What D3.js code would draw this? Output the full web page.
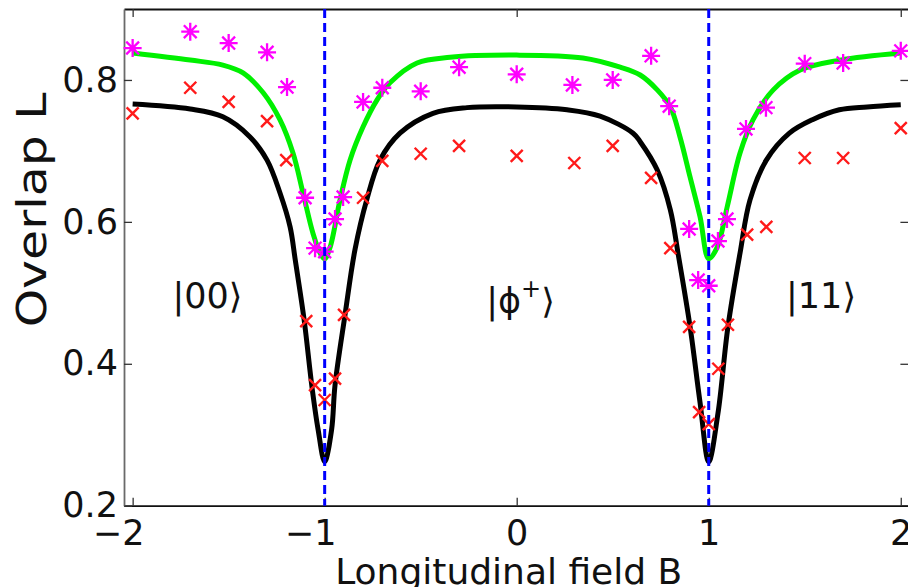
<!DOCTYPE html>
<html>
<head>
<meta charset="utf-8">
<script src="https://cdn.jsdelivr.net/npm/d3@7"></script>
<style>
  body { margin: 0; background: #fff; }
  svg { display: block; }
  text { font-family: "DejaVu Sans", sans-serif; fill: #111; }
</style>
</head>
<body>
<svg id="chart"></svg>
<script>
// ticks
const xTicks = [-2, -1, 0, 1, 2];
const yTicks = [0.2, 0.4, 0.6, 0.8];
const dipFields = [-1, 1];

// theory curves
const blackB = [-2.0, -1.70, -1.53, -1.39, -1.30, -1.233, -1.18, -1.153, -1.107, -1.066, -1.034, -1.0, -0.964, -0.946, -0.894, -0.842, -0.78, -0.712, -0.608, -0.436, -0.259, 0.0, 0.262, 0.434, 0.606, 0.643, 0.732, 0.80, 0.84, 0.903, 0.955, 1.0, 1.048, 1.10, 1.163, 1.215, 1.30, 1.42, 1.54, 1.68, 1.825, 2.0];
const blackL = [0.766, 0.759, 0.748, 0.720, 0.687, 0.641, 0.593, 0.546, 0.462, 0.367, 0.307, 0.262, 0.307, 0.370, 0.469, 0.561, 0.632, 0.687, 0.725, 0.753, 0.761, 0.762, 0.758, 0.749, 0.725, 0.713, 0.673, 0.617, 0.556, 0.452, 0.345, 0.262, 0.330, 0.452, 0.556, 0.631, 0.687, 0.725, 0.744, 0.758, 0.762, 0.765];

const greenB = [-2.0, -1.70, -1.53, -1.425, -1.32, -1.233, -1.165, -1.113, -1.061, -1.024, -1.0, -0.972, -0.92, -0.868, -0.80, -0.727, -0.66, -0.519, -0.347, 0.0, 0.345, 0.539, 0.643, 0.732, 0.80, 0.85, 0.903, 0.955, 1.0, 1.044, 1.096, 1.163, 1.231, 1.336, 1.476, 1.684, 2.0];
const greenL = [0.838, 0.828, 0.821, 0.810, 0.782, 0.744, 0.697, 0.641, 0.584, 0.556, 0.548, 0.564, 0.631, 0.687, 0.734, 0.772, 0.796, 0.824, 0.832, 0.835, 0.831, 0.818, 0.807, 0.786, 0.762, 0.720, 0.663, 0.607, 0.548, 0.564, 0.621, 0.697, 0.744, 0.786, 0.814, 0.828, 0.838];

// measured points
const starB = [-2.0, -1.70, -1.50, -1.30, -1.196, -1.102, -1.05, -1.0, -0.946, -0.904, -0.80, -0.70, -0.50, -0.30, 0.0, 0.29, 0.50, 0.70, 0.794, 0.898, 0.945, 1.0, 1.048, 1.095, 1.194, 1.298, 1.50, 1.70, 2.0];
const starL = [0.845, 0.868, 0.852, 0.839, 0.790, 0.634, 0.563, 0.558, 0.604, 0.635, 0.769, 0.789, 0.784, 0.818, 0.808, 0.793, 0.800, 0.834, 0.763, 0.590, 0.518, 0.510, 0.573, 0.604, 0.731, 0.761, 0.823, 0.824, 0.841];

const crossB = [-2.0, -1.70, -1.50, -1.30, -1.20, -1.096, -1.05, -1.0, -0.946, -0.899, -0.80, -0.70, -0.50, -0.30, 0.0, 0.30, 0.50, 0.70, 0.80, 0.898, 0.95, 1.0, 1.05, 1.10, 1.20, 1.30, 1.50, 1.70, 2.0];
const crossL = [0.753, 0.789, 0.769, 0.742, 0.687, 0.460, 0.370, 0.349, 0.379, 0.469, 0.634, 0.686, 0.696, 0.707, 0.693, 0.683, 0.707, 0.662, 0.563, 0.452, 0.332, 0.315, 0.393, 0.455, 0.582, 0.593, 0.690, 0.690, 0.732];

// state annotations
const stateNames = ["00", "ϕ", "11"];
const stateB = [-1.61, 0.02, 1.585];
const stateL = [0.478, 0.471, 0.478];

const width = 908, height = 587;
const svg = d3.select("#chart").attr("width", width).attr("height", height);

const x = d3.scaleLinear().domain([-2.045, 2.045]).range([124, 909.4]);
const y = d3.scaleLinear().domain([0.2, 0.9]).range([505.7, 9]);

const styleAxis = (g, color) => {
    g.attr("font-family", null).attr("font-size", 35);
    g.select(".domain").attr("stroke", color).attr("stroke-width", 1.8);
    g.selectAll(".tick line").attr("stroke", "#333").attr("stroke-width", 1.3);
    g.selectAll(".tick text").attr("fill", "#111");
};

// box and ticks
svg.append("g")
    .attr("transform", `translate(0, ${y(0.9)})`)
    .call(d3.axisTop(x).tickValues(xTicks).tickSizeInner(-8).tickSizeOuter(0).tickFormat(""))
    .call(g => styleAxis(g, "#111"));

svg.append("g")
    .attr("transform", `translate(${x(2.045) - 1}, 0)`)
    .call(d3.axisRight(y).tickValues(yTicks).tickSizeInner(-8).tickSizeOuter(0).tickFormat(""))
    .call(g => styleAxis(g, "#111"));

svg.append("g")
    .attr("transform", `translate(0, ${y(0.2)})`)
    .call(d3.axisBottom(x).tickValues(xTicks).tickSizeInner(-8).tickSizeOuter(0).tickPadding(14).tickFormat(d3.format("d")))
    .call(g => styleAxis(g, "#111"))
    .selectAll(".tick text")
    .attr("dx", d => d < 0 ? -14.5 : 0);

svg.append("g")
    .attr("transform", `translate(${x(-2.045)}, 0)`)
    .call(d3.axisLeft(y).tickValues(yTicks).tickSizeInner(-8).tickSizeOuter(0).tickPadding(6).tickFormat(d3.format(".1f")))
    .call(g => styleAxis(g, "#6a6a6a"));

// axis titles
svg.append("text")
    .attr("x", x(0) - 8)
    .attr("y", 584)
    .attr("text-anchor", "middle")
    .attr("font-size", 36)
    .text("Longitudinal field B");

svg.append("text")
    .attr("transform", `translate(46, ${y(0.6) - 12}) rotate(-90)`)
    .attr("text-anchor", "middle")
    .attr("font-size", 41)
    .attr("textLength", 235)
    .attr("lengthAdjust", "spacingAndGlyphs")
    .text("Overlap L");

// curves
const line = d3.line()
    .x(d => x(d[0]))
    .y(d => y(d[1]))
    .curve(d3.curveCatmullRom.alpha(0.5));

svg.append("path")
    .datum(blackB.map((b, i) => [b, blackL[i]]))
    .attr("d", line)
    .attr("fill", "none")
    .attr("stroke", "#000")
    .attr("stroke-width", 5);

svg.append("path")
    .datum(greenB.map((b, i) => [b, greenL[i]]))
    .attr("d", line)
    .attr("fill", "none")
    .attr("stroke", "#00f000")
    .attr("stroke-width", 5);

// markers
svg.append("g").selectAll("path")
    .data(crossB.map((b, i) => [b, crossL[i]]))
    .enter()
    .append("path")
    .attr("transform", d => `translate(${x(d[0])}, ${y(d[1])})`)
    .attr("d", "M-6,-6L6,6M-6,6L6,-6")
    .attr("stroke", "#ff1a1a")
    .attr("stroke-width", 2.4)
    .attr("fill", "none");

svg.append("g").selectAll("path")
    .data(starB.map((b, i) => [b, starL[i]]))
    .enter()
    .append("path")
    .attr("transform", d => `translate(${x(d[0])}, ${y(d[1])})`)
    .attr("d", "M-9,0H9M0,-9V9M-6.4,-6.4L6.4,6.4M-6.4,6.4L6.4,-6.4")
    .attr("stroke", "#ff00ff")
    .attr("stroke-width", 2.3)
    .attr("fill", "none");

// dashed lines at the dips
svg.append("g").selectAll("line")
    .data(dipFields)
    .enter()
    .append("line")
    .attr("x1", d => x(d))
    .attr("x2", d => x(d))
    .attr("y1", y(0.9))
    .attr("y2", y(0.2))
    .attr("stroke", "#0000ff")
    .attr("stroke-width", 3)
    .attr("stroke-dasharray", "9,5");

// state labels
const labels = svg.append("g").selectAll("text")
    .data(stateNames)
    .enter()
    .append("text")
    .attr("x", (d, i) => x(stateB[i]))
    .attr("y", (d, i) => y(stateL[i]))
    .attr("text-anchor", "middle")
    .attr("font-size", 35);

labels.each(function(d) {
    const t = d3.select(this);
    t.append("tspan").text("|" + d);
    if (d === "ϕ") {
        t.append("tspan").attr("dy", -16).attr("font-size", 24).text("+");
        t.append("tspan").attr("dy", 16).text("⟩");
    } else {
        t.append("tspan").text("⟩");
    }
});
</script>
</body>
</html>
